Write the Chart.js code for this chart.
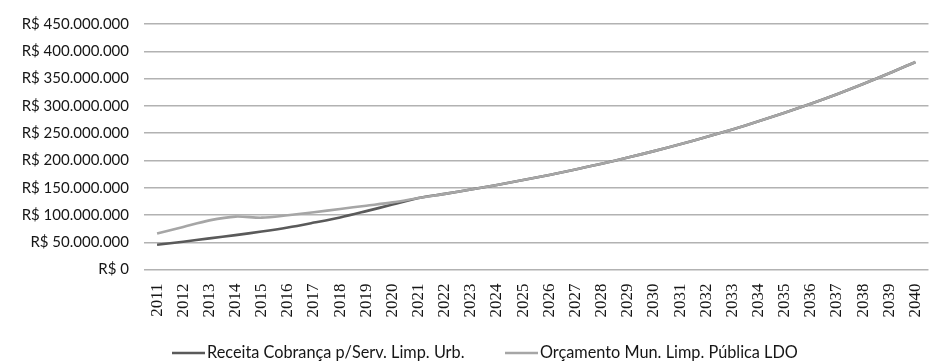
<!DOCTYPE html>
<html>
<head>
<meta charset="utf-8">
<script src="https://cdn.jsdelivr.net/npm/chart.js@4/dist/chart.umd.min.js"></script>
<style>
  html, body { margin: 0; padding: 0; background: #fff; overflow: hidden; }
  #wrap { width: 950px; height: 363px; position: relative; }
</style>
</head>
<body>
<div id="wrap"><canvas id="c" width="950" height="363"></canvas></div>
<script>
// Anos da projeção
const anos = [
  '2011','2012','2013','2014','2015','2016','2017','2018','2019','2020',
  '2021','2022','2023','2024','2025','2026','2027','2028','2029','2030',
  '2031','2032','2033','2034','2035','2036','2037','2038','2039','2040'
];

// Receita da cobrança pelo serviço de limpeza urbana (R$)
const receitaCobranca = [
  45500000, 51000000, 57000000, 63000000, 69500000, 77000000, 86000000, 95500000, 107000000, 119000000,
  131000000, 138600000, 146600000, 155000000, 164000000, 173400000, 183400000, 194000000, 205200000, 217000000,
  229500000, 242800000, 256800000, 271600000, 287300000, 303900000, 321400000, 340000000, 359600000, 380400000
];

// Orçamento municipal de limpeza pública na LDO (R$)
const orcamentoLDO = [
  66000000, 78000000, 90000000, 97000000, 95000000, 99500000, 105000000, 111000000, 117000000, 123000000,
  131000000, 138600000, 146600000, 155000000, 164000000, 173400000, 183400000, 194000000, 205200000, 217000000,
  229500000, 242800000, 256800000, 271600000, 287300000, 303900000, 321400000, 340000000, 359600000, 380400000
];

const nomesSeries = ['Receita Cobrança p/Serv. Limp. Urb.', 'Orçamento Mun. Limp. Pública LDO'];

const eixoY = { min: 0, max: 450000000, passo: 50000000 };

function formatarReais(v) {
  const s = Math.round(v).toString().replace(/\B(?=(\d{3})+(?!\d))/g, '.');
  return 'R$ ' + s;
}

const corEscura = '#5a5a5a';
const corClara = '#a6a6a6';
const corTexto = '#161616';
const fonteTexto = 'Lato, "Open Sans", sans-serif';

// Legenda desenhada à mão, abaixo do eixo dos anos
const legendaManual = {
  id: 'legendaManual',
  afterDraw(chart) {
    const ctx = chart.ctx;
    const y = 353;
    const itens = [
      { x: 172, cor: corEscura, texto: nomesSeries[0] },
      { x: 505, cor: corClara, texto: nomesSeries[1] }
    ];
    ctx.save();
    ctx.font = '16.3px ' + fonteTexto;
    ctx.fillStyle = corTexto;
    ctx.textBaseline = 'middle';
    ctx.textAlign = 'left';
    itens.forEach(it => {
      ctx.strokeStyle = it.cor;
      ctx.lineWidth = 2.5;
      ctx.beginPath();
      ctx.moveTo(it.x, y);
      ctx.lineTo(it.x + 33, y);
      ctx.stroke();
      ctx.fillText(it.texto, it.x + 35, y);
    });
    ctx.restore();
  }
};

new Chart(document.getElementById('c'), {
  type: 'line',
  data: {
    labels: anos,
    datasets: [
      {
        label: nomesSeries[0],
        data: receitaCobranca,
        borderColor: corEscura,
        borderWidth: 2.6,
        pointRadius: 0,
        tension: 0.3,
        fill: false,
        order: 1
      },
      {
        label: nomesSeries[1],
        data: orcamentoLDO,
        borderColor: corClara,
        borderWidth: 2.6,
        pointRadius: 0,
        tension: 0.3,
        fill: false,
        order: 0
      }
    ]
  },
  options: {
    responsive: false,
    animation: false,
    layout: { padding: { top: 19, right: 12, bottom: 0, left: 0 } },
    plugins: {
      legend: { display: false },
      tooltip: { enabled: false }
    },
    scales: {
      x: {
        offset: true,
        grid: { display: false, drawTicks: false },
        border: { display: false },
        ticks: {
          autoSkip: false,
          minRotation: 90,
          maxRotation: 90,
          padding: 14,
          color: corTexto,
          font: { family: '"Liberation Serif", "DejaVu Serif", serif', size: 17 }
        },
        afterFit(scale) { scale.height = 93.5; }
      },
      y: {
        min: eixoY.min,
        max: eixoY.max,
        grid: { color: '#b2b2b2', lineWidth: 1.4, drawTicks: false },
        border: { display: false },
        ticks: {
          stepSize: eixoY.passo,
          padding: 15,
          color: corTexto,
          font: { family: fonteTexto, size: 15 },
          callback: v => formatarReais(v)
        },
        afterFit(scale) { scale.width = 144; }
      }
    }
  },
  plugins: [legendaManual]
});
</script>
</body>
</html>
